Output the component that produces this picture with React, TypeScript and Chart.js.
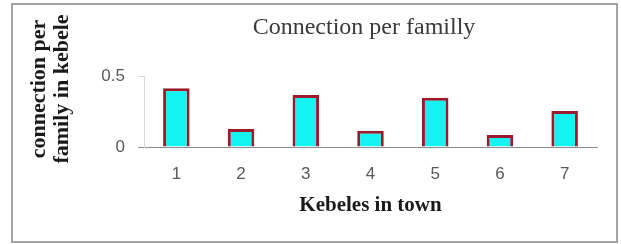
import React, { useEffect, useRef } from "react";
import { Chart, registerables } from "chart.js";

Chart.register(...registerables);

const categories = ["1", "2", "3", "4", "5", "6", "7"];
const connectionPerFamily = [0.413, 0.127, 0.367, 0.115, 0.347, 0.084, 0.254];
const yTickValues = [0, 0.5];
const chartTitle = "Connection per familly";
const yTitleLines = ["connection per", "family in kebele"];
const xTitle = "Kebeles in town";

const textPlugin = {
  id: "customTexts",
  afterDraw(chart: any) {
    const ctx = chart.ctx;
    ctx.save();
    // main title
    ctx.fillStyle = "#3a3a3a";
    ctx.font = "24px 'Liberation Serif', serif";
    ctx.textAlign = "center";
    ctx.textBaseline = "middle";
    ctx.fillText(chartTitle, 364, 28);
    // y title
    ctx.fillStyle = "#1a1a1a";
    ctx.font = "bold 22px 'Liberation Serif', serif";
    const xs = [39, 62];
    yTitleLines.forEach((line, i) => {
      ctx.save();
      ctx.translate(xs[i], 89);
      ctx.rotate(-Math.PI / 2);
      ctx.fillText(line, 0, 0);
      ctx.restore();
    });
    ctx.restore();
  },
};

export default function App() {
  const canvasRef = useRef<HTMLCanvasElement | null>(null);

  useEffect(() => {
    if (!canvasRef.current) return;
    const chart = new Chart(canvasRef.current, {
      type: "bar",
      data: {
        labels: categories,
        datasets: [
          {
            data: connectionPerFamily,
            backgroundColor: "#14f2f2",
            borderColor: "#9c1a2c",
            borderWidth: 3,
            barPercentage: 0.41,
            categoryPercentage: 1,
          },
        ],
      },
      options: {
        responsive: false,
        animation: false,
        layout: { padding: { left: 0, right: 24, top: 76, bottom: 0 } },
        plugins: {
          legend: { display: false },
          title: { display: false },
          tooltip: { enabled: false },
        },
        scales: {
          x: {
            afterFit: (scale: any) => {
              scale.height = 97;
            },
            grid: { display: false, drawTicks: false },
            border: { display: true, color: "#8c8c8c", width: 1 },
            ticks: {
              color: "#595959",
              font: { family: "'Liberation Sans', sans-serif", size: 17 },
              padding: 17,
            },
            title: {
              display: true,
              text: xTitle,
              color: "#1a1a1a",
              font: { family: "'Liberation Serif', serif", size: 21, weight: "bold" },
              padding: { top: 8, bottom: 26 },
            },
          },
          y: {
            min: 0,
            max: 0.5,
            afterFit: (scale: any) => {
              scale.width = 144;
            },
            afterBuildTicks: (scale: any) => {
              scale.ticks = yTickValues.map((v) => ({ value: v }));
            },
            grid: {
              display: true,
              drawOnChartArea: false,
              drawTicks: true,
              tickLength: 6,
              color: (c: any) => (c.tick && c.tick.value === 0 ? "#8c8c8c" : "#d9d9d9"),
            },
            border: { display: true, color: "#d9d9d9", width: 1 },
            ticks: {
              color: "#595959",
              font: { family: "'Liberation Sans', sans-serif", size: 17 },
              padding: 13,
              callback: (v: any) => String(v),
            },
          },
        },
      },
      plugins: [textPlugin],
    });
    return () => chart.destroy();
  }, []);

  return (
    <div
      style={{
        position: "absolute",
        left: 0,
        top: 0,
        width: 621,
        height: 244,
        background: "#ffffff",
      }}
    >
      <canvas ref={canvasRef} width={621} height={244} style={{ position: "absolute", left: 0, top: 0 }} />
      <div
        style={{
          position: "absolute",
          left: 11,
          top: 3,
          width: 607,
          height: 240,
          boxSizing: "border-box",
          border: "2px solid #a3a3a3",
          pointerEvents: "none",
        }}
      />
    </div>
  );
}
